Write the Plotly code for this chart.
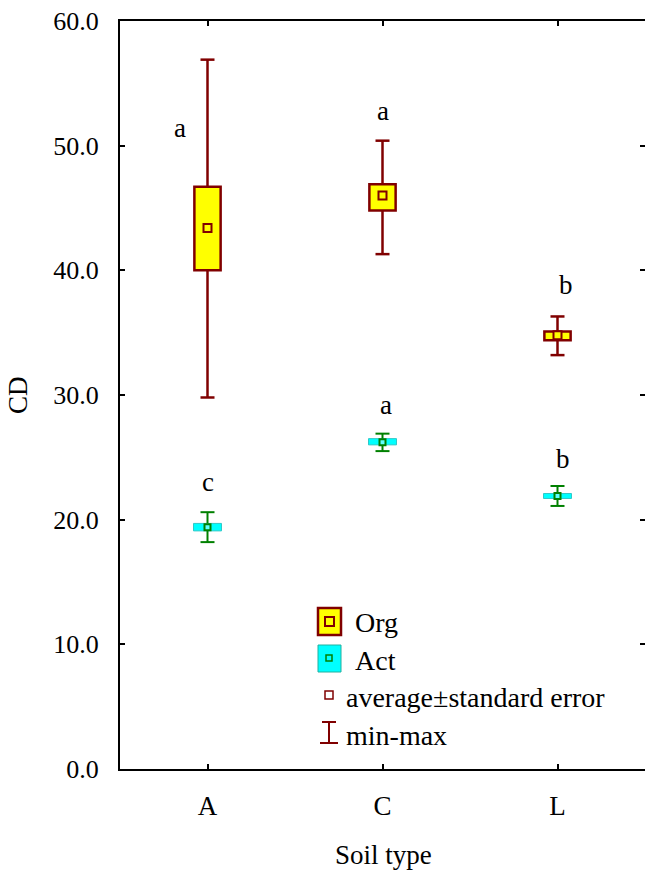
import plotly.graph_objects as go

# ---------------- data ----------------
categories = ["A", "C", "L"]

org_mean = [43.4, 46.0, 34.8]
org_se_low = [40.0, 44.8, 34.4]
org_se_high = [46.7, 46.9, 35.1]
org_min = [29.8, 41.3, 33.2]
org_max = [56.9, 50.4, 36.3]

act_mean = [19.4, 26.2, 21.9]
act_se_low = [19.1, 26.0, 21.7]
act_se_high = [19.7, 26.5, 22.1]
act_min = [18.2, 25.5, 21.1]
act_max = [20.6, 26.9, 22.7]

org_letters = ["a", "a", "b"]
act_letters = ["c", "a", "b"]

y_ticks = [0, 10, 20, 30, 40, 50, 60]

# ---------------- layout constants ----------------
W, H = 645, 871
ML, MR, MT, MB = 120, 0, 21, 102
PW, PH = W - ML - MR, H - MT - MB
FONT = "Liberation Serif"
DARKRED = "#800000"
GREEN = "#008000"
YELLOW = "#FFFF00"
CYAN = "#00FFFF"

xs_idx = list(range(len(categories)))
CAP = 0.04  # half cap width in category units


def whisker_trace(lo, mn, hi, mx, color, width):
    xs, ys = [], []
    for i in xs_idx:
        xs += [i, i, None, i, i, None]
        ys += [hi[i], mx[i], None, lo[i], mn[i], None]
        xs += [i - CAP, i + CAP, None, i - CAP, i + CAP, None]
        ys += [mx[i], mx[i], None, mn[i], mn[i], None]
    return go.Scatter(x=xs, y=ys, mode="lines", line=dict(color=color, width=width),
                      hoverinfo="skip", showlegend=False)


fig = go.Figure()

# boxes (SE range)
fig.add_trace(go.Bar(x=xs_idx, y=[h - l for h, l in zip(org_se_high, org_se_low)], base=org_se_low,
                     width=0.15, marker=dict(color=YELLOW, line=dict(color=DARKRED, width=2.5)),
                     showlegend=False))
fig.add_trace(go.Bar(x=xs_idx, y=[h - l for h, l in zip(act_se_high, act_se_low)], base=act_se_low,
                     width=0.16, marker=dict(color=CYAN, line=dict(color="#30C8C8", width=1)),
                     showlegend=False))

# whiskers
fig.add_trace(whisker_trace(org_se_low, org_min, org_se_high, org_max, DARKRED, 2.5))
fig.add_trace(whisker_trace(act_se_low, act_min, act_se_high, act_max, GREEN, 2))

# means
fig.add_trace(go.Scatter(x=xs_idx, y=org_mean, mode="markers",
                         marker=dict(symbol="square", size=8, color=YELLOW, line=dict(color=DARKRED, width=2)),
                         showlegend=False))
fig.add_trace(go.Scatter(x=xs_idx, y=act_mean, mode="markers",
                         marker=dict(symbol="square", size=6, color="#60FFFF", line=dict(color=GREEN, width=2)),
                         showlegend=False))

# invisible trace for right-side ticks axis
fig.add_trace(go.Scatter(x=[None], y=[None], yaxis="y2", showlegend=False, hoverinfo="skip"))

# letter annotations (positions)
org_letter_dx = [-0.16, 0.0, 0.05]
org_letter_y = [51.4, 52.8, 38.8]
act_letter_dx = [0.0, 0.02, 0.03]
act_letter_y = [23.0, 29.2, 24.9]

annotations = []
for i in xs_idx:
    annotations.append(dict(x=i + org_letter_dx[i], y=org_letter_y[i], xref="x", yref="y",
                            text=org_letters[i], showarrow=False,
                            font=dict(family=FONT, size=27, color="black")))
    annotations.append(dict(x=i + act_letter_dx[i], y=act_letter_y[i], xref="x", yref="y",
                            text=act_letters[i], showarrow=False,
                            font=dict(family=FONT, size=27, color="black")))


def px(x):
    return (x - ML) / PW


def py(y):
    return (MT + PH - y) / PH


# axis titles
annotations.append(dict(x=px(18), y=py(395), xref="paper", yref="paper", text="CD", textangle=-90,
                        showarrow=False, xanchor="center", yanchor="middle",
                        font=dict(family=FONT, size=27, color="black")))
annotations.append(dict(x=px(383), y=py(855), xref="paper", yref="paper", text="Soil type",
                        showarrow=False, xanchor="center", yanchor="middle",
                        font=dict(family=FONT, size=27, color="black")))

# legend texts
leg_texts = [("Org", 353, 622), ("Act", 353, 660), ("average±standard error", 344, 697), ("min-max", 344, 735)]
for t, lx, ly in leg_texts:
    annotations.append(dict(x=px(lx), y=py(ly), xref="paper", yref="paper", text=t, showarrow=False,
                            xanchor="left", yanchor="middle",
                            font=dict(family=FONT, size=28, color="black")))

shapes = []


def rect(x0, y0, x1, y1, fill, line, lw):
    shapes.append(dict(type="rect", xref="paper", yref="paper", x0=px(x0), x1=px(x1), y0=py(y0), y1=py(y1),
                       fillcolor=fill, line=dict(color=line, width=lw)))


def seg(x0, y0, x1, y1, color, lw):
    shapes.append(dict(type="line", xref="paper", yref="paper", x0=px(x0), x1=px(x1), y0=py(y0), y1=py(y1),
                       line=dict(color=color, width=lw)))


rect(318, 608, 341, 635, YELLOW, DARKRED, 2.5)
rect(325, 617, 334, 626, YELLOW, DARKRED, 2)
rect(318, 645, 341, 672, CYAN, "#20B0A0", 1)
rect(326, 655, 332, 661, CYAN, GREEN, 1.5)
rect(325, 691, 333, 699, "white", DARKRED, 1.5)
seg(329, 722, 329, 743, DARKRED, 2)
seg(322, 722, 336, 722, DARKRED, 2)
seg(320, 743, 338, 743, DARKRED, 2)

fig.update_layout(
    width=W, height=H,
    margin=dict(l=ML, r=MR, t=MT, b=MB),
    paper_bgcolor="white", plot_bgcolor="white",
    barmode="overlay",
    showlegend=False,
    font=dict(family=FONT, size=26, color="black"),
    xaxis=dict(range=[-0.5, 2.5], tickmode="array", tickvals=xs_idx, ticktext=categories,
               showline=True, linecolor="black", linewidth=2, mirror="ticks",
               ticks="inside", ticklen=5, tickwidth=2, tickcolor="black",
               showgrid=False, zeroline=False, ticklabelstandoff=12,
               tickfont=dict(family=FONT, size=27)),
    yaxis=dict(range=[0, 60], tickmode="array", tickvals=y_ticks,
               ticktext=[f"{v:.1f}" for v in y_ticks],
               showline=True, linecolor="black", linewidth=2, mirror=False,
               ticks="inside", ticklen=5, tickwidth=2, tickcolor="black",
               showgrid=False, zeroline=False, ticklabelstandoff=14,
               tickfont=dict(family=FONT, size=26)),
    yaxis2=dict(range=[0, 60], overlaying="y", side="right", tickmode="array", tickvals=y_ticks[1:-1],
                showline=False, ticks="inside", ticklen=5, tickwidth=2, tickcolor="black",
                showticklabels=False, showgrid=False, zeroline=False),
    annotations=annotations,
    shapes=shapes,
)

fig.write_html("out.html")
